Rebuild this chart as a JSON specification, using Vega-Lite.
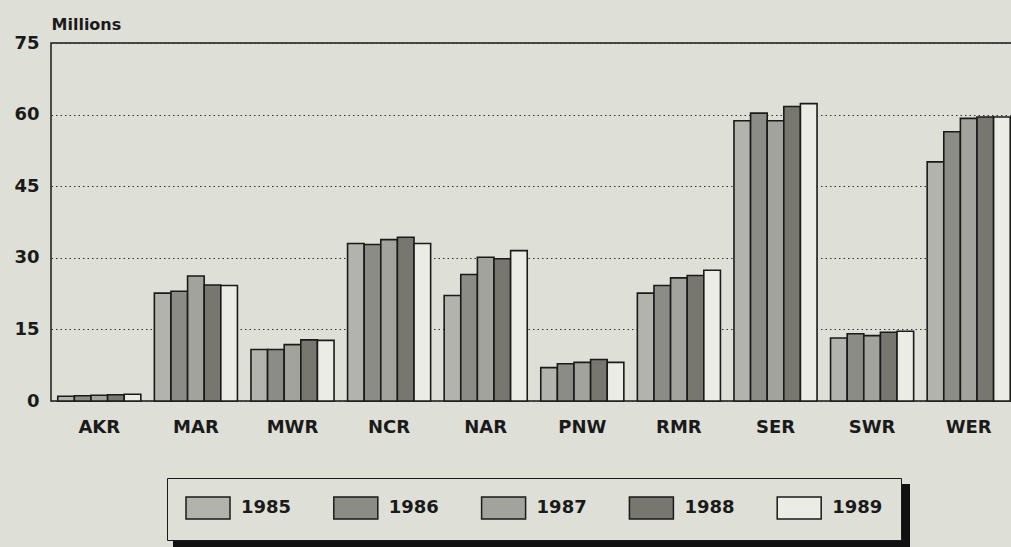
{
  "$schema": "https://vega.github.io/schema/vega-lite/v6.json",
  "autosize": "none",
  "width": 966,
  "height": 358,
  "padding": {"left": 51, "top": 43, "right": 0, "bottom": 146},
  "background": "#dedfd6",
  "config": {
    "font": "DejaVu Sans",
    "view": {"stroke": "#1a1a1a", "strokeWidth": 1.5}
  },
  "data": {
    "values": [
      {"region": "AKR", "year": "1985", "value": 1.0},
      {"region": "AKR", "year": "1986", "value": 1.1},
      {"region": "AKR", "year": "1987", "value": 1.2},
      {"region": "AKR", "year": "1988", "value": 1.3},
      {"region": "AKR", "year": "1989", "value": 1.4},
      {"region": "MAR", "year": "1985", "value": 22.6},
      {"region": "MAR", "year": "1986", "value": 23.0},
      {"region": "MAR", "year": "1987", "value": 26.2},
      {"region": "MAR", "year": "1988", "value": 24.3},
      {"region": "MAR", "year": "1989", "value": 24.2},
      {"region": "MWR", "year": "1985", "value": 10.8},
      {"region": "MWR", "year": "1986", "value": 10.8},
      {"region": "MWR", "year": "1987", "value": 11.8},
      {"region": "MWR", "year": "1988", "value": 12.8},
      {"region": "MWR", "year": "1989", "value": 12.7},
      {"region": "NCR", "year": "1985", "value": 33.0},
      {"region": "NCR", "year": "1986", "value": 32.8},
      {"region": "NCR", "year": "1987", "value": 33.8},
      {"region": "NCR", "year": "1988", "value": 34.3},
      {"region": "NCR", "year": "1989", "value": 33.0},
      {"region": "NAR", "year": "1985", "value": 22.1},
      {"region": "NAR", "year": "1986", "value": 26.5},
      {"region": "NAR", "year": "1987", "value": 30.1},
      {"region": "NAR", "year": "1988", "value": 29.8},
      {"region": "NAR", "year": "1989", "value": 31.5},
      {"region": "PNW", "year": "1985", "value": 7.0},
      {"region": "PNW", "year": "1986", "value": 7.8},
      {"region": "PNW", "year": "1987", "value": 8.1},
      {"region": "PNW", "year": "1988", "value": 8.7},
      {"region": "PNW", "year": "1989", "value": 8.1},
      {"region": "RMR", "year": "1985", "value": 22.6},
      {"region": "RMR", "year": "1986", "value": 24.2},
      {"region": "RMR", "year": "1987", "value": 25.8},
      {"region": "RMR", "year": "1988", "value": 26.3},
      {"region": "RMR", "year": "1989", "value": 27.4},
      {"region": "SER", "year": "1985", "value": 58.7},
      {"region": "SER", "year": "1986", "value": 60.3},
      {"region": "SER", "year": "1987", "value": 58.7},
      {"region": "SER", "year": "1988", "value": 61.7},
      {"region": "SER", "year": "1989", "value": 62.3},
      {"region": "SWR", "year": "1985", "value": 13.2},
      {"region": "SWR", "year": "1986", "value": 14.1},
      {"region": "SWR", "year": "1987", "value": 13.7},
      {"region": "SWR", "year": "1988", "value": 14.4},
      {"region": "SWR", "year": "1989", "value": 14.6},
      {"region": "WER", "year": "1985", "value": 50.1},
      {"region": "WER", "year": "1986", "value": 56.4},
      {"region": "WER", "year": "1987", "value": 59.2},
      {"region": "WER", "year": "1988", "value": 59.5},
      {"region": "WER", "year": "1989", "value": 59.5}
    ]
  },
  "mark": {"type": "bar", "stroke": "#1a1a1a", "strokeWidth": 1.6},
  "encoding": {
    "x": {
      "field": "region", "type": "nominal", "sort": null,
      "scale": {"paddingInner": 0.14, "paddingOuter": 0.07},
      "axis": {
        "title": null, "labelAngle": 0, "ticks": false, "domain": false,
        "labelPadding": 17, "labelFontSize": 18, "labelFontWeight": "bold",
        "labelColor": "#1a1a1a"
      }
    },
    "xOffset": {"field": "year", "type": "nominal", "scale": {"paddingInner": 0, "paddingOuter": 0}},
    "y": {
      "field": "value", "type": "quantitative",
      "scale": {"domain": [0, 75], "nice": false},
      "axis": {
        "title": "Millions", "values": [0, 15, 30, 45, 60, 75],
        "grid": true, "gridDash": [1.5, 3], "gridColor": "#333", "gridWidth": 1,
        "ticks": false, "domain": false,
        "labelFontSize": 18, "labelFontWeight": "bold", "labelColor": "#1a1a1a", "labelPadding": 12,
        "titleAngle": 0, "titleAlign": "left", "titleBaseline": "middle",
        "titleX": 0, "titleY": -19, "titleFontSize": 16, "titleFontWeight": "bold", "titleColor": "#1a1a1a"
      }
    },
    "opacity": {
      "field": "year", "type": "nominal",
      "scale": {"domain": ["1985", "1986", "1987", "1988", "1989"], "range": [1, 1, 1, 1, 1]},
      "legend": {
        "title": null, "orient": "none", "legendX": 121, "legendY": 440, "zindex": 0,
        "values": ["1985"], "labelExpr": "''",
        "padding": 0, "strokeColor": null, "fillColor": null,
        "symbolType": "M0,0H737V80H0Z", "symbolSize": 4,
        "symbolFillColor": "#111111", "symbolStrokeColor": "#111111", "symbolStrokeWidth": 0,
        "labelFontSize": 1, "labelOffset": 0
      }
    },
    "fill": {
      "field": "year", "type": "nominal",
      "scale": {"range": ["#b3b3ad", "#8c8c86", "#a3a39d", "#77776f", "#ecece6"]},
      "legend": {
        "title": null, "orient": "none", "legendX": 116, "legendY": 435, "zindex": 1,
        "direction": "horizontal", "columns": 5,
        "strokeColor": "#1a1a1a", "fillColor": "#dedfd6", "padding": 18,
        "symbolType": "M-1,-1H3V1H-1Z", "symbolSize": 484,
        "symbolStrokeColor": "#1a1a1a", "symbolStrokeWidth": 1.5,
        "labelFontSize": 18, "labelFontWeight": "bold", "labelColor": "#1a1a1a",
        "labelOffset": 32, "columnPadding": 38.8
      }
    }
  }
}
